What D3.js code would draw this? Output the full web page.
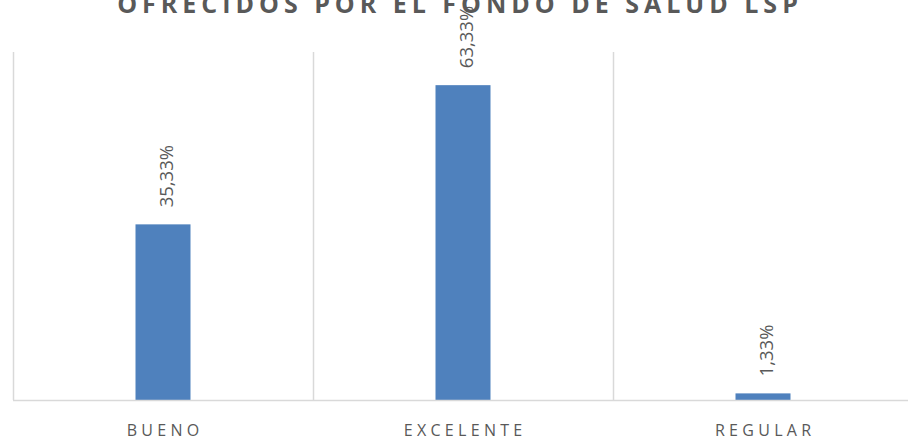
<!DOCTYPE html>
<html>
<head>
<meta charset="utf-8">
<script src="https://cdn.jsdelivr.net/npm/d3@7"></script>
<style>
  body { margin: 0; background: #fff; }
  svg { display: block; font-family: "Open Sans", "Liberation Sans", sans-serif; }
</style>
</head>
<body>
<svg width="911" height="442"></svg>
<script>
const categories = ["BUENO", "EXCELENTE", "REGULAR"];
const values = [0.3533, 0.6333, 0.0133];
const valueLabels = ["35,33%", "63,33%", "1,33%"];
const title = "OFRECIDOS POR EL FONDO DE SALUD LSP";

const width = 911;
const margin = { top: 52, right: -2, bottom: 42, left: 13 };
const height = 442;

const svg = d3.select("svg");

const x = d3.scaleBand()
  .domain(categories)
  .range([margin.left, width - margin.right])
  .paddingInner(0)
  .paddingOuter(0);

const y = d3.scaleLinear()
  .domain([0, 0.7])
  .range([height - margin.bottom, margin.top]);

// vertical category separators
const seps = [margin.left].concat(categories.slice(1).map(c => x(c)));
svg.append("g")
  .selectAll("line")
  .data(seps)
  .enter().append("line")
  .attr("x1", d => d + 0.5)
  .attr("x2", d => d + 0.5)
  .attr("y1", margin.top)
  .attr("y2", height - margin.bottom)
  .attr("stroke", "#d9d9d9")
  .attr("stroke-width", 1.5);

// bars
const barW = 55;
svg.append("g")
  .selectAll("rect")
  .data(values)
  .enter().append("rect")
  .attr("x", (d, i) => x(categories[i]) + x.bandwidth() / 2 - barW / 2)
  .attr("width", barW)
  .attr("y", d => y(d))
  .attr("height", d => y(0) - y(d))
  .attr("fill", "#4f81bd");

// baseline
svg.append("line")
  .attr("x1", margin.left)
  .attr("x2", 908)
  .attr("y1", y(0) + 0.5)
  .attr("y2", y(0) + 0.5)
  .attr("stroke", "#d9d9d9")
  .attr("stroke-width", 1.5);

// value labels, rotated
svg.append("g")
  .selectAll("text")
  .data(values)
  .enter().append("text")
  .attr("transform", (d, i) => {
    const cx = x(categories[i]) + x.bandwidth() / 2 + 9.5;
    return `translate(${cx},${y(d) - 17}) rotate(-90)`;
  })
  .attr("text-anchor", "start")
  .attr("font-size", 18.5)
  .attr("fill", "#595959")
  .text((d, i) => valueLabels[i]);

// category labels
const catSpacing = 4.3;
svg.append("g")
  .selectAll("text")
  .data(categories)
  .enter().append("text")
  .attr("x", d => x(d) + x.bandwidth() / 2 + catSpacing / 2)
  .attr("y", 436)
  .attr("text-anchor", "middle")
  .attr("font-size", 16)
  .attr("letter-spacing", catSpacing + "px")
  .attr("fill", "#595959")
  .text(d => d);

// title (partly off the top, as in the original)
const titleSpacing = 5;
svg.append("text")
  .attr("x", 457.5 + titleSpacing / 2)
  .attr("y", 13)
  .attr("text-anchor", "middle")
  .attr("font-size", 25)
  .attr("font-weight", "bold")
  .attr("letter-spacing", titleSpacing + "px")
  .attr("fill", "#595959")
  .text(title);
</script>
</body>
</html>
